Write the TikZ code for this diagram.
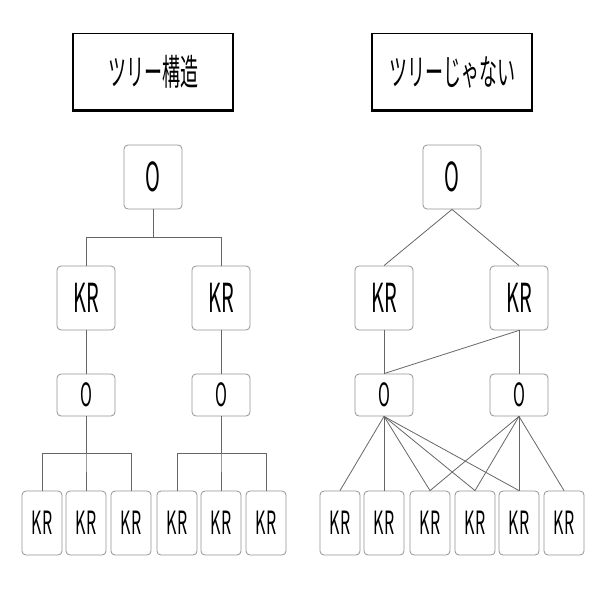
\documentclass[tikz,border=0pt]{standalone}
\usepackage{fontspec}
\setmainfont[FakeStretch=0.5]{Noto Sans CJK JP}
\usetikzlibrary{calc}
\tikzset{
  big/.style={draw=gray!85, rounded corners=4pt, line width=0.8pt, inner sep=0pt,
    minimum width=58pt, minimum height=64pt, font=\fontsize{40}{40}\selectfont},
  mid/.style={big, minimum height=42pt, font=\fontsize{32}{32}\selectfont},
  leaf/.style={big, minimum width=40pt, font=\fontsize{32}{32}\selectfont},
  titlebox/.style={draw, line width=1.6pt, inner sep=0pt, minimum width=160pt,
    minimum height=77pt, font=\fontsize{36}{36}\selectfont},
  link/.style={draw=black!60, line width=0.8pt},
  elbow/.style={to path={(\tikztostart.south) |- ($(\tikztostart.south)!.5!(\tikztotarget.north)$) -| (\tikztotarget.north)}}
}
\begin{document}
\begin{tikzpicture}[x=1pt,y=-1pt]
  \useasboundingbox (0,0) rectangle (596,596);
  % titles
  \draw (153,72) node[titlebox] (tl) {ツリー構造};
  \draw (452,72) node[titlebox] (tr) {ツリーじゃない};
  \draw[line width=3pt] ([yshift=0.8pt]tl.south west) -- ([yshift=0.8pt]tl.south east);
  \draw[line width=3pt] ([yshift=0.8pt]tr.south west) -- ([yshift=0.8pt]tr.south east);

  % tree
  \draw (153,177) node[big] (lo) {O};
  \draw (86,298) node[big] (lka) {KR};
  \draw (221,298) node[big] (lkb) {KR};
  \draw (86,395) node[mid] (lpa) {O};
  \draw (221,395) node[mid] (lpb) {O};
  \draw (42,523) node[leaf] (lb1) {KR};
  \draw (86,523) node[leaf] (lb2) {KR};
  \draw (131,523) node[leaf] (lb3) {KR};
  \draw (177,523) node[leaf] (lb4) {KR};
  \draw (221,523) node[leaf] (lb5) {KR};
  \draw (266,523) node[leaf] (lb6) {KR};

  \draw[link] (lo) to[elbow] (lka) (lo) to[elbow] (lkb);
  \draw[link] (lka) -- (lpa);
  \draw[link] (lkb) -- (lpb);
  \draw[link] (lpa) to[elbow] (lb1) (lpa) to[elbow] (lb2) (lpa) to[elbow] (lb3);
  \draw[link] (lpb) to[elbow] (lb4) (lpb) to[elbow] (lb5) (lpb) to[elbow] (lb6);

  % not a tree
  \draw (452,177) node[big] (ro) {O};
  \draw (384,298) node[big] (rka) {KR};
  \draw (519,298) node[big] (rkb) {KR};
  \draw (384,395) node[mid] (rpa) {O};
  \draw (519,395) node[mid] (rpb) {O};
  \draw (340,523) node[leaf] (rb1) {KR};
  \draw (384,523) node[leaf] (rb2) {KR};
  \draw (430,523) node[leaf] (rb3) {KR};
  \draw (475,523) node[leaf] (rb4) {KR};
  \draw (519,523) node[leaf] (rb5) {KR};
  \draw (564,523) node[leaf] (rb6) {KR};

  \draw[link] (ro.south) -- (rka.north);
  \draw[link] (ro.south) -- (rkb.north);
  \draw[link] (rka.south) -- (rpa.north);
  \draw[link] (rkb.south) -- (rpa.north);
  \draw[link] (rkb.south) -- (rpb.north);
  \draw[link] (rpa.south) -- (rb1.north);
  \draw[link] (rpa.south) -- (rb2.north);
  \draw[link] (rpa.south) -- (rb3.north);
  \draw[link] (rpa.south) -- (rb4.north);
  \draw[link] (rpa.south) -- (rb5.north);
  \draw[link] (rpb.south) -- (rb3.north);
  \draw[link] (rpb.south) -- (rb4.north);
  \draw[link] (rpb.south) -- (rb5.north);
  \draw[link] (rpb.south) -- (rb6.north);
\end{tikzpicture}
\end{document}
